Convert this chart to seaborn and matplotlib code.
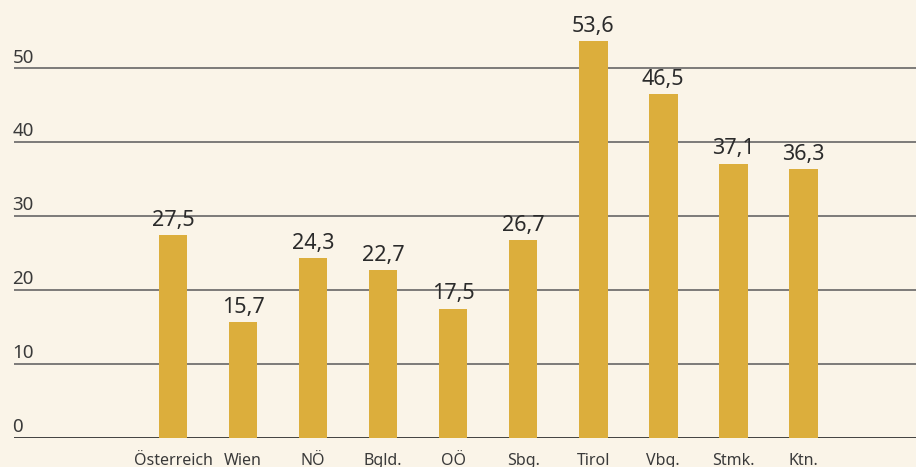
import matplotlib
matplotlib.use("Agg")
import matplotlib.pyplot as plt
import matplotlib.transforms as mtransforms
import seaborn as sns
import pandas as pd

categories = ["Österreich", "Wien", "NÖ", "Bgld.", "OÖ", "Sbg.", "Tirol", "Vbg.", "Stmk.", "Ktn."]
values = [27.5, 15.7, 24.3, 22.7, 17.5, 26.7, 53.6, 46.5, 37.1, 36.3]
yticks = [0, 10, 20, 30, 40, 50]

BG = "#faf4e8"
BAR = "#dcae3c"
TXT = "#2b2b2b"

sns.set_theme(style="white")
plt.rcParams["font.family"] = ["Noto Sans", "DejaVu Sans"]

df = pd.DataFrame({"cat": categories, "val": values})

W, H = 916, 467
fig = plt.figure(figsize=(W / 100, H / 100), dpi=100)
fig.patch.set_facecolor(BG)
ax = fig.add_axes([14 / W, 29 / H, 902 / W, 438 / H])
ax.set_facecolor(BG)

sns.barplot(data=df, x="cat", y="val", color=BAR, width=0.41, saturation=1, ax=ax,
            zorder=3, linewidth=0, edgecolor="none")

ax.set_xlim(-2.27, 10.61)
ax.set_ylim(0, 59.2)
ax.set_xlabel("")
ax.set_ylabel("")
for s in ax.spines.values():
    s.set_visible(False)

for t in yticks:
    ax.axhline(t, color="#333333" if t == 0 else "#5a5a5a", lw=1.3 if t == 0 else 1.1, zorder=1)
ax.set_yticks([])

trans = mtransforms.blended_transform_factory(ax.transAxes, ax.transData)
for t in yticks:
    ax.annotate(str(t), xy=(0, t), xycoords=trans, xytext=(-1, 4), textcoords="offset points",
                ha="left", va="baseline", fontsize=13.5, color="#3a3a3a")

for i, v in enumerate(values):
    ax.annotate(f"{v:.1f}".replace(".", ","), xy=(i, v), xytext=(0, 6.5), textcoords="offset points",
                ha="center", va="baseline", fontsize=15.5, color=TXT)

ax.tick_params(axis="x", length=0, pad=11, labelsize=11.5, colors="#3a3a3a")

fig.savefig("out.png", dpi=100, facecolor=BG)
